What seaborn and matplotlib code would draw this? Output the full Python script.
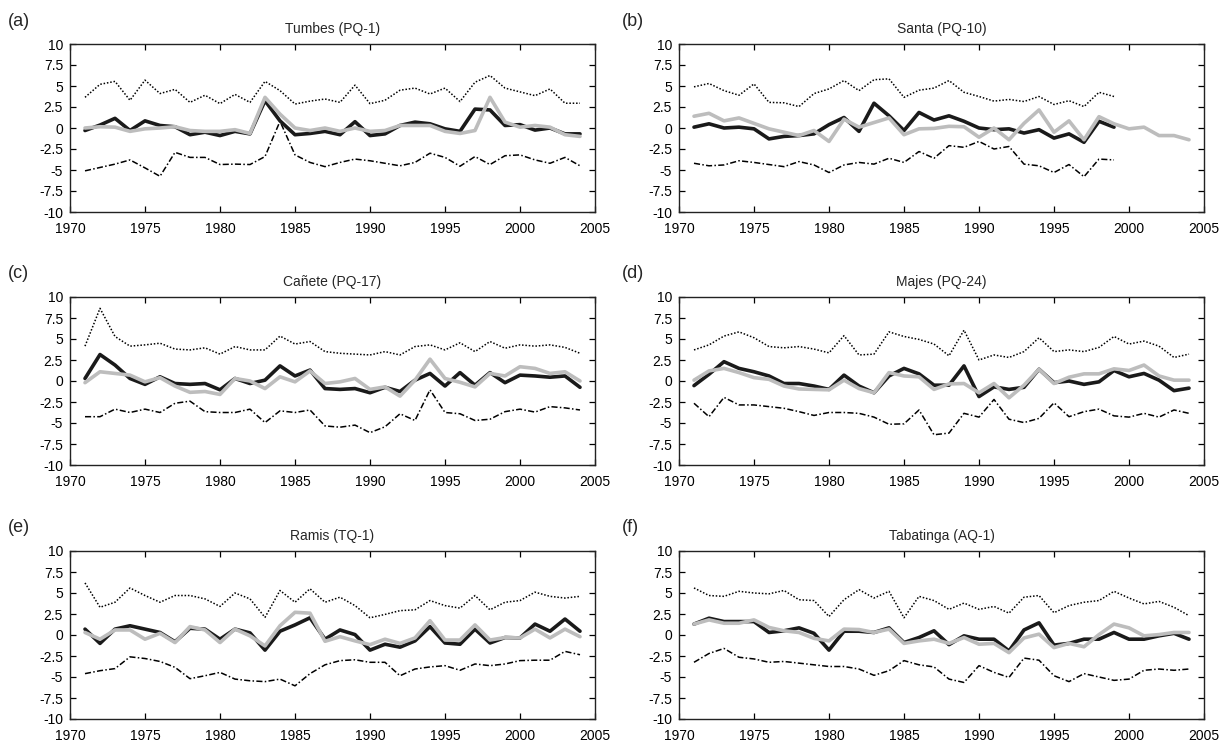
import numpy as np
import pandas as pd
import matplotlib
matplotlib.use("Agg")
import matplotlib.pyplot as plt
import seaborn as sns

sns.set_style("ticks")
plt.rcParams['font.family'] = ['Liberation Sans', 'DejaVu Sans']
plt.rcParams['axes.unicode_minus'] = False

years = list(range(1971, 2005))

titles = ["Tumbes (PQ-1)", "Santa (PQ-10)", "Cañete (PQ-17)",
          "Majes (PQ-24)", "Ramis (TQ-1)", "Tabatinga (AQ-1)"]
panel_labels = ["(a)", "(b)", "(c)", "(d)", "(e)", "(f)"]

# (a) Tumbes
a_upper = [3.65, 5.2, 5.55, 3.3, 5.7, 4.1, 4.6, 3.05, 3.9, 2.9, 4.0, 3.05, 5.55, 4.45, 2.85, 3.2,
           3.45, 3.05, 5.1, 2.9, 3.3, 4.5, 4.75, 4.05, 4.75, 3.15, 5.45, 6.25, 4.75, 4.3, 3.85, 4.65, 2.95, 2.95]
a_lower = [-5.1, -4.7, -4.3, -3.8, -4.75, -5.75, -2.9, -3.5, -3.5, -4.35, -4.3, -4.35, -3.4, 0.8, -3.2, -4.1,
           -4.6, -4.1, -3.7, -3.9, -4.2, -4.5, -4.1, -3.0, -3.5, -4.55, -3.4, -4.35, -3.3, -3.2, -3.8, -4.2, -3.5, -4.5]
a_black = [-0.3, 0.35, 1.15, -0.3, 0.85, 0.3, 0.15, -0.8, -0.5, -0.9, -0.4, -0.7, 3.25, 0.85, -0.8, -0.65,
           -0.4, -0.8, 0.75, -0.9, -0.7, 0.3, 0.7, 0.5, -0.1, -0.4, 2.25, 2.15, 0.3, 0.4, -0.25, 0.0, -0.7, -0.7]
a_gray = [0.0, 0.15, 0.1, -0.4, -0.1, 0.0, 0.15, -0.3, -0.4, -0.4, -0.2, -0.65, 3.65, 1.65, 0.0, -0.3,
          0.0, -0.4, 0.0, -0.4, -0.3, 0.3, 0.3, 0.3, -0.4, -0.65, -0.3, 3.65, 0.7, 0.1, 0.3, 0.1, -0.8, -1.0]

# (b) Santa (bounds and black series end in 1999)
b_upper = [4.9, 5.3, 4.45, 3.9, 5.25, 3.05, 3.0, 2.55, 4.1, 4.65, 5.65, 4.45, 5.75, 5.85, 3.65,
           4.5, 4.75, 5.65, 4.25, 3.75, 3.2, 3.4, 3.15, 3.75, 2.8, 3.25, 2.55, 4.25, 3.75]
b_lower = [-4.2, -4.5, -4.4, -3.9, -4.1, -4.35, -4.6, -4.0, -4.4, -5.3, -4.4, -4.1, -4.3, -3.6, -4.1,
           -2.8, -3.6, -2.1, -2.3, -1.6, -2.5, -2.2, -4.3, -4.5, -5.3, -4.35, -5.8, -3.7, -3.8]
b_black = [0.1, 0.5, 0.0, 0.1, -0.1, -1.3, -1.0, -0.9, -0.7, 0.4, 1.25, -0.4, 2.95, 1.45, -0.3,
           1.85, 0.95, 1.45, 0.8, 0.0, -0.2, -0.1, -0.6, -0.2, -1.2, -0.7, -1.7, 0.8, 0.1]
b_gray = [1.4, 1.75, 0.85, 1.2, 0.55, -0.1, -0.5, -0.9, -0.3, -1.6, 1.05, 0.1, 0.65, 1.2, -0.8,
          -0.1, -0.05, 0.2, 0.15, -1.1, 0.0, -1.4, 0.55, 2.15, -0.5, 0.85, -1.4, 1.35, 0.5,
          -0.1, 0.1, -0.9, -0.9, -1.4]

# (c) Cañete
c_upper = [4.15, 8.65, 5.3, 4.15, 4.3, 4.5, 3.8, 3.7, 3.95, 3.2, 4.1, 3.7, 3.7, 5.35, 4.4, 4.7,
           3.5, 3.3, 3.2, 3.1, 3.5, 3.1, 4.1, 4.3, 3.7, 4.55, 3.5, 4.7, 3.9, 4.3, 4.15, 4.3, 4.0, 3.3]
c_lower = [-4.25, -4.25, -3.35, -3.75, -3.35, -3.75, -2.65, -2.4, -3.65, -3.75, -3.75, -3.35, -4.95, -3.55, -3.75, -3.45,
           -5.35, -5.5, -5.25, -6.15, -5.45, -3.9, -4.7, -1.05, -3.75, -3.9, -4.7, -4.55, -3.65, -3.35, -3.7, -3.05, -3.2, -3.45]
c_black = [0.3, 3.15, 1.9, 0.3, -0.4, 0.5, -0.3, -0.4, -0.3, -1.05, 0.3, -0.3, 0.1, 1.8, 0.6, 1.3,
           -0.9, -1.0, -0.9, -1.4, -0.75, -1.25, 0.1, 0.9, -0.6, 1.0, -0.5, 1.0, -0.2, 0.7, 0.6, 0.45, 0.6, -0.75]
c_gray = [-0.2, 1.1, 0.9, 0.7, -0.1, 0.4, -0.6, -1.35, -1.25, -1.6, 0.3, 0.0, -0.9, 0.5, -0.1, 1.2,
          -0.3, -0.1, 0.3, -1.0, -0.7, -1.8, 0.1, 2.6, 0.3, -0.15, -0.7, 0.9, 0.6, 1.7, 1.5, 0.9, 1.1, 0.0]

# (d) Majes
d_upper = [3.7, 4.3, 5.35, 5.85, 5.15, 4.1, 3.95, 4.1, 3.8, 3.35, 5.4, 3.1, 3.2, 5.85, 5.3, 4.95,
           4.4, 3.0, 6.05, 2.5, 3.1, 2.8, 3.5, 5.15, 3.5, 3.7, 3.5, 4.0, 5.3, 4.4, 4.75, 4.15, 2.8, 3.2]
d_lower = [-2.65, -4.25, -1.95, -2.85, -2.85, -3.05, -3.25, -3.65, -4.1, -3.75, -3.75, -3.85, -4.3, -5.15, -5.1, -3.45,
           -6.4, -6.2, -3.85, -4.3, -2.2, -4.55, -4.95, -4.45, -2.6, -4.25, -3.65, -3.35, -4.15, -4.3, -3.85, -4.3, -3.45, -3.85]
d_black = [-0.55, 0.8, 2.3, 1.5, 1.1, 0.6, -0.3, -0.3, -0.6, -1.0, 0.7, -0.6, -1.4, 0.6, 1.5, 0.85,
           -0.5, -0.5, 1.8, -1.85, -0.7, -1.0, -0.75, 1.4, -0.2, 0.0, -0.4, -0.1, 1.25, 0.5, 0.9, 0.1, -1.15, -0.85]
d_gray = [0.1, 1.2, 1.5, 1.0, 0.4, 0.2, -0.6, -0.95, -1.0, -1.05, 0.1, -0.9, -1.4, 1.0, 0.6, 0.5,
          -1.0, -0.35, -0.3, -1.4, -0.3, -2.0, -0.5, 1.4, -0.3, 0.45, 0.85, 0.85, 1.45, 1.25, 1.9, 0.6, 0.1, 0.1]

# (e) Ramis
e_upper = [6.2, 3.3, 3.9, 5.6, 4.7, 3.9, 4.7, 4.7, 4.3, 3.4, 5.0, 4.3, 2.1, 5.3, 3.9, 5.5,
           3.9, 4.5, 3.5, 2.05, 2.45, 2.9, 3.0, 4.1, 3.5, 3.2, 4.7, 3.0, 3.9, 4.1, 5.1, 4.6, 4.4, 4.6]
e_lower = [-4.6, -4.25, -4.0, -2.6, -2.8, -3.15, -3.85, -5.2, -4.85, -4.45, -5.25, -5.45, -5.55, -5.25, -6.05, -4.6,
           -3.55, -3.05, -2.95, -3.25, -3.25, -4.85, -4.05, -3.8, -3.65, -4.2, -3.45, -3.65, -3.45, -3.05, -3.0, -3.0, -1.95, -2.35]
e_black = [0.7, -1.0, 0.7, 1.1, 0.7, 0.3, -0.8, 0.8, 0.7, -0.5, 0.7, 0.25, -1.8, 0.45, 1.2, 2.05,
           -0.5, 0.6, 0.05, -1.8, -1.1, -1.45, -0.7, 1.0, -0.95, -1.1, 0.7, -0.95, -0.3, -0.35, 1.3, 0.45, 1.9, 0.45]
e_gray = [0.3, -0.5, 0.6, 0.6, -0.5, 0.2, -0.9, 1.0, 0.6, -0.9, 0.7, -0.1, -1.3, 1.1, 2.7, 2.6,
          -0.75, -0.2, -0.7, -1.15, -0.5, -1.0, -0.35, 1.7, -0.6, -0.6, 1.2, -0.6, -0.3, -0.35, 0.7, -0.35, 0.7, -0.2]

# (f) Tabatinga
f_upper = [5.6, 4.7, 4.6, 5.2, 5.0, 4.9, 5.3, 4.2, 4.1, 2.2, 4.2, 5.4, 4.4, 5.2, 2.05, 4.6,
           4.1, 3.05, 3.8, 3.05, 3.4, 2.6, 4.5, 4.7, 2.65, 3.5, 3.9, 4.1, 5.2, 4.4, 3.7, 4.0, 3.3, 2.3]
f_lower = [-3.25, -2.2, -1.6, -2.65, -2.85, -3.25, -3.15, -3.35, -3.55, -3.75, -3.75, -4.05, -4.8, -4.25, -3.05, -3.55,
           -3.8, -5.25, -5.65, -3.65, -4.45, -5.05, -2.75, -3.0, -4.85, -5.55, -4.6, -5.0, -5.4, -5.25, -4.2, -4.05, -4.2, -4.05]
f_black = [1.3, 2.0, 1.6, 1.6, 1.6, 0.3, 0.5, 0.85, 0.2, -1.8, 0.45, 0.45, 0.3, 0.85, -0.9, -0.3,
           0.5, -1.15, -0.1, -0.5, -0.5, -1.9, 0.6, 1.45, -1.2, -1.0, -0.5, -0.5, 0.3, -0.5, -0.5, -0.1, 0.2, -0.5]
f_gray = [1.3, 1.8, 1.4, 1.4, 1.8, 0.9, 0.5, 0.3, -0.4, -0.7, 0.7, 0.65, 0.3, 0.7, -1.0, -0.7,
          -0.5, -1.0, -0.3, -1.1, -1.0, -2.1, -0.35, 0.1, -1.5, -1.0, -1.4, 0.05, 1.3, 0.85, -0.1, 0.05, 0.3, 0.3]

panels = [
    (a_upper, a_lower, a_black, a_gray),
    (b_upper, b_lower, b_black, b_gray),
    (c_upper, c_lower, c_black, c_gray),
    (d_upper, d_lower, d_black, d_gray),
    (e_upper, e_lower, e_black, e_gray),
    (f_upper, f_lower, f_black, f_gray),
]

xticks = [1970, 1975, 1980, 1985, 1990, 1995, 2000, 2005]
yticks = [-10, -7.5, -5, -2.5, 0, 2.5, 5, 7.5, 10]
ytick_labels = ["-10", "-7.5", "-5", "-2.5", "0", "2.5", "5", "7.5", "10"]

W, H = 1228, 748
fig = plt.figure(figsize=(W / 100, H / 100), dpi=100)

lefts = [70, 679]
label_x = [8, 622]
tops = [44, 297, 551]
aw, ah = 525, 168

for i, (up, lo, bl, gr) in enumerate(panels):
    r, c = divmod(i, 2)
    l = lefts[c]
    t = tops[r]
    ax = fig.add_axes([l / W, 1 - (t + ah) / H, aw / W, ah / H])
    sns.lineplot(x=years[:len(up)], y=up, ax=ax, color="black", linewidth=1.1, linestyle=(0, (1, 1.2)))
    sns.lineplot(x=years[:len(lo)], y=lo, ax=ax, color="black", linewidth=1.1, linestyle=(0, (4, 1.5, 1, 1.5)))
    sns.lineplot(x=years[:len(bl)], y=bl, ax=ax, color="#1a1a1a", linewidth=2.6)
    sns.lineplot(x=years[:len(gr)], y=gr, ax=ax, color="#bdbdbd", linewidth=2.6)
    ax.set_xlim(1970, 2005)
    ax.set_ylim(-10, 10)
    ax.set_xticks(xticks)
    ax.set_xticklabels([str(x) for x in xticks])
    ax.set_yticks(yticks)
    ax.set_yticklabels(ytick_labels)
    ax.tick_params(direction="in", top=True, right=True, length=4, width=0.9,
                   labelsize=10, colors="black")
    ax.tick_params(axis="x", pad=7)
    ax.tick_params(axis="y", pad=5)
    for s in ax.spines.values():
        s.set_visible(True)
        s.set_linewidth(1.0)
        s.set_color("#222222")
    ax.set_xlabel("")
    ax.set_ylabel("")
    ax.set_title(titles[i], fontsize=10, pad=8)
    fig.text(label_x[c] / W, 1 - (t - 23) / H, panel_labels[i], fontsize=13,
             ha="left", va="center")

fig.savefig("out.png", dpi=100)
